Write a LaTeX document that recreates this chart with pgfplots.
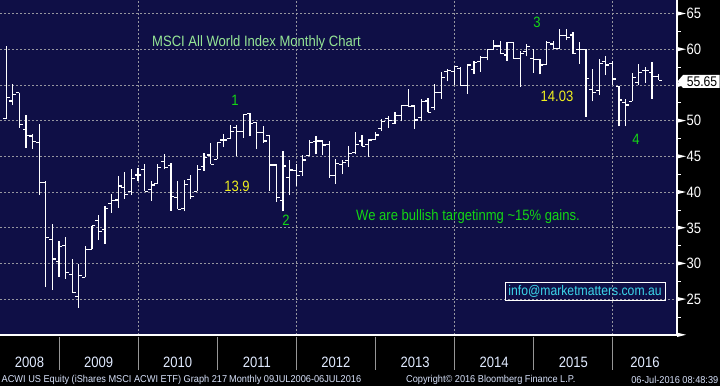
\documentclass[border=0pt]{standalone}
\usepackage{pgfplots}
\pgfplotsset{compat=1.18}
\usepackage{pgfplotstable}
\usepackage{fontspec}
\setmainfont{Liberation Sans}
\newfontfamily\bbg{Liberation Sans}[FakeStretch=0.87]
\newfontfamily\bbgf{Liberation Sans}[FakeStretch=0.92]
\newcommand{\fs}[1]{\fontsize{#1}{#1}\selectfont}
\definecolor{bgnavy}{RGB}{15,15,70}
\definecolor{gridc}{RGB}{150,150,160}
\definecolor{titlegreen}{RGB}{150,230,150}
\definecolor{brightgreen}{RGB}{20,215,20}
\definecolor{yellowc}{RGB}{240,240,30}
\definecolor{cyanc}{RGB}{60,215,235}
\definecolor{yearc}{RGB}{225,235,255}
\definecolor{footc}{RGB}{215,225,250}
\definecolor{sepc}{RGB}{150,150,150}

\pgfplotstableread{
x o h l c
3 50.0 50.1 49.3 49.3
4 50.3 60.5 50.3 53.3
5 52.75 55.2 52.2 53.7
6 53.9 53.9 49.0 49.5
7 48.8 50.8 46.2 47.9
8 47.85 48.1 46.1 47.1
9 46.95 49.6 39.6 41.3
10 41.3 41.6 26.7 33.6
11 33.4 35.5 26.3 30.65
12 30.3 33.1 28.1 32.4
13 32.5 33.7 27.85 28.7
14 28.45 30.7 25.9 25.9
15 25.4 29.9 23.8 28.3
16 28.1 32.4 28.1 32.0
17 32.0 35.3 32.0 35.3
18 36.0 36.8 33.3 34.5
19 34.8 38.0 32.75 37.7
20 38.4 39.7 37.1 38.8
21 38.9 42.3 37.85 40.85
22 40.7 42.85 39.1 39.7
23 40.1 43.3 39.6 41.9
24 42.4 43.4 41.6 42.4
25 43.2 43.9 40.1 40.1
26 40.4 41.5 38.8 41.0
27 41.2 44.0 41.2 43.5
28 44.25 45.4 43.2 43.5
29 43.7 44.1 37.4 39.4
30 39.3 41.6 37.6 37.6
31 37.75 41.7 37.3 41.1
32 41.8 42.4 39.0 39.4
33 40.1 43.8 40.1 43.2
34 43.6 45.5 43.0 44.9
35 45.2 46.9 43.9 43.9
36 44.6 47.0 44.6 46.9
37 47.3 48.2 46.3 47.3
38 47.5 49.35 47.4 48.5
39 49.1 49.4 45.0 48.45
40 48.45 50.9 47.6 50.9
41 51.0 51.1 47.8 49.65
42 49.7 49.7 46.0 48.4
43 48.35 49.3 46.9 47.15
44 47.9 47.9 40.2 43.8
45 43.8 44.0 38.6 39.2
46 38.8 45.8 37.3 43.65
47 42.1 44.5 39.6 43.1
48 43.0 43.9 40.9 42.3
49 42.9 45.2 42.3 44.5
50 45.1 47.3 45.1 46.9
51 47.05 47.8 45.3 47.15
52 47.15 47.3 45.2 46.6
53 46.7 47.15 42.0 42.3
54 42.3 44.6 41.2 44.0
55 43.9 44.5 42.5 44.2
56 44.4 46.45 43.55 45.4
57 45.5 48.4 45.3 46.7
58 47.15 48.0 46.4 46.4
59 46.7 47.4 44.9 47.3
60 47.4 48.4 47.3 48.0
61 48.9 50.2 48.6 49.9
62 50.3 50.7 49.0 50.0
63 49.6 51.2 49.6 50.75
64 50.7 52.15 49.9 52.15
65 52.1 54.5 51.9 51.95
66 52.05 52.2 48.9 50.1
67 50.4 53.0 49.9 52.7
68 52.75 53.2 51.2 51.2
69 51.9 55.2 51.5 54.0
70 54.0 56.8 53.1 56.1
71 56.9 57.2 55.5 57.0
72 56.9 57.7 55.0 57.6
73 57.3 57.5 54.8 54.9
74 54.9 58.0 53.8 57.8
75 57.2 58.4 56.6 58.2
76 58.3 59.0 56.8 58.8
77 58.8 60.0 58.45 60.0
78 60.0 61.3 60.0 60.45
79 60.45 61.1 59.3 59.4
80 59.2 61.0 58.4 61.0
81 61.0 61.0 58.7 58.75
82 58.75 59.7 54.7 59.4
83 59.7 60.8 59.0 60.4
84 58.75 60.1 56.7 58.6
85 58.6 58.7 56.5 57.8
86 57.9 61.2 57.9 61.0
87 60.75 61.2 60.0 60.1
88 60.1 62.9 60.1 61.9
89 61.9 62.8 61.3 61.7
90 62.0 62.4 59.4 59.4
91 60.0 61.0 58.0 60.0
92 60.0 60.0 50.5 55.9
93 54.4 57.2 52.7 54.0
94 54.2 58.6 53.6 58.0
95 58.3 59.1 56.4 57.8
96 58.0 58.3 55.0 55.85
97 54.8 54.9 49.2 52.9
98 52.5 53.0 49.2 52.2
99 52.7 56.7 52.7 56.1
100 55.4 58.0 55.0 56.8
101 57.0 57.5 55.3 57.0
102 56.8 58.2 53.1 56.2
103 56.2 56.5 55.7 55.65
}\ohlc

\begin{document}
\begin{tikzpicture}
\fill[black] (0,0) rectangle (720pt,386pt);
\begin{axis}[
  at={(0pt,51pt)}, anchor=south west,
  scale only axis, width=677pt, height=335pt,
  xmin=3.05, xmax=105.8, ymin=20, ymax=66.9,
  axis background/.style={fill=bgnavy},
  axis x line*=bottom, axis y line*=right,
  axis line style={white, line width=1.2pt},
  xtick={24,48,72,96}, xticklabels={},
  major x tick style={draw=none},
  xmajorgrids, ymajorgrids,
  ytick={25,30,...,65},
  yticklabels={25,30,35,40,45,50,,60,65},
  minor ytick={22.5,27.5,...,62.5},
  major grid style={gridc, dash pattern=on 2pt off 2pt, line width=0.8pt},
  tick align=outside,
  major tick length=0pt, minor tick length=3.5pt,
  major y tick style={draw=none},
  minor y tick style={white, line width=1pt},
  /pgf/number format/assume math mode=true,
  yticklabel style={anchor=west, inner sep=0pt, xshift=9.5pt, text=white, font=\bbg\fs{15}},
]
\addplot[draw=none, mark=none,
  error bars/.cd, y dir=plus, y explicit, error mark=none,
  error bar style={draw=white, line width=1.2pt}]
  table[x=x, y=l, y error expr=\thisrow{h}-\thisrow{l}] {\ohlc};
\addplot[only marks, mark=-, mark size=1.7pt,
  mark options={draw=white, line width=1.2pt, xshift=-1.7pt}]
  table[x=x, y=o] {\ohlc};
\addplot[only marks, mark=-, mark size=1.7pt,
  mark options={draw=white, line width=1.2pt, xshift=1.7pt}]
  table[x=x, y=c] {\ohlc};
\end{axis}
\begin{scope}[x=1pt, y=-1pt, yshift=386pt]
  % tick triangles
  \foreach \v in {20,25,...,65}{
    \pgfmathsetmacro{\py}{13.5+(65-\v)*7.14}
    \fill[white] (677,\py-2.2) -- (677,\py+2.2) -- (686,\py) -- cycle;
  }
  % last price label
  \fill[white] (677.5,81.5) -- (683,75) -- (719.5,75) -- (719.5,88) -- (683,88) -- cycle;
  \node[text=black, font=\bbg\fs{14}, inner sep=0pt] at (702,81.5) {55.65};
  % annotations
  \node[text=titlegreen, font=\bbg\fs{15}, inner sep=0pt] at (256.5,43) {MSCI All World Index Monthly Chart};
  \node[text=brightgreen, font=\bbg\fs{15}, inner sep=0pt] at (235,100) {1};
  \node[text=yellowc, font=\bbg\fs{15}, inner sep=0pt] at (237,186) {13.9};
  \node[text=brightgreen, font=\bbg\fs{15}, inner sep=0pt] at (286,220) {2};
  \node[text=brightgreen, font=\bbg\fs{15}, inner sep=0pt] at (537,22) {3};
  \node[text=yellowc, font=\bbg\fs{15}, inner sep=0pt] at (557,96) {14.03};
  \node[text=brightgreen, font=\bbg\fs{15}, inner sep=0pt] at (636,139) {4};
  \node[text=brightgreen, font=\bbg\fs{15}, inner sep=0pt] at (468,217) {We are bullish targetinmg \textasciitilde15\% gains.};
  \draw[white, line width=1pt] (505.5,282) rectangle (665,300.5);
  \node[text=cyanc, font=\bbg\fs{14}, inner sep=0pt] at (585,291) {info@marketmatters.com.au};
  % year separators and labels
  \foreach \k in {0,...,7}{
    \draw[sepc, line width=1pt] (59+\k*79.14,336.5) -- (59+\k*79.14,370);
  }
  \foreach \px/\yr in {29.5/2008, 98.6/2009, 177.7/2010, 256.8/2011, 335.9/2012, 415.1/2013, 494.2/2014, 573.3/2015, 645/2016}{
    \node[text=yearc, font=\bbg\fs{15}, inner sep=0pt] at (\px,362.5) {\yr};
  }
  % footer
  \node[text=footc, font=\bbgf\fs{10}, inner sep=0pt, anchor=west] at (1.5,379.5) {ACWI US Equity (iShares MSCI ACWI ETF) Graph 217};
  \node[text=footc, font=\bbgf\fs{10}, inner sep=0pt, anchor=west] at (229,379.5) {Monthly 09JUL2006-06JUL2016};
  \node[text=footc, font=\bbgf\fs{10}, inner sep=0pt, anchor=west] at (406,379.5) {Copyright\textcopyright{} 2016 Bloomberg Finance L.P.};
  \node[text=footc, font=\bbgf\fs{10}, inner sep=0pt, anchor=east] at (718.5,379.5) {06-Jul-2016 08:48:39};
\end{scope}
\pgfresetboundingbox
\useasboundingbox (0,0) rectangle (720pt,386pt);
\end{tikzpicture}
\end{document}
